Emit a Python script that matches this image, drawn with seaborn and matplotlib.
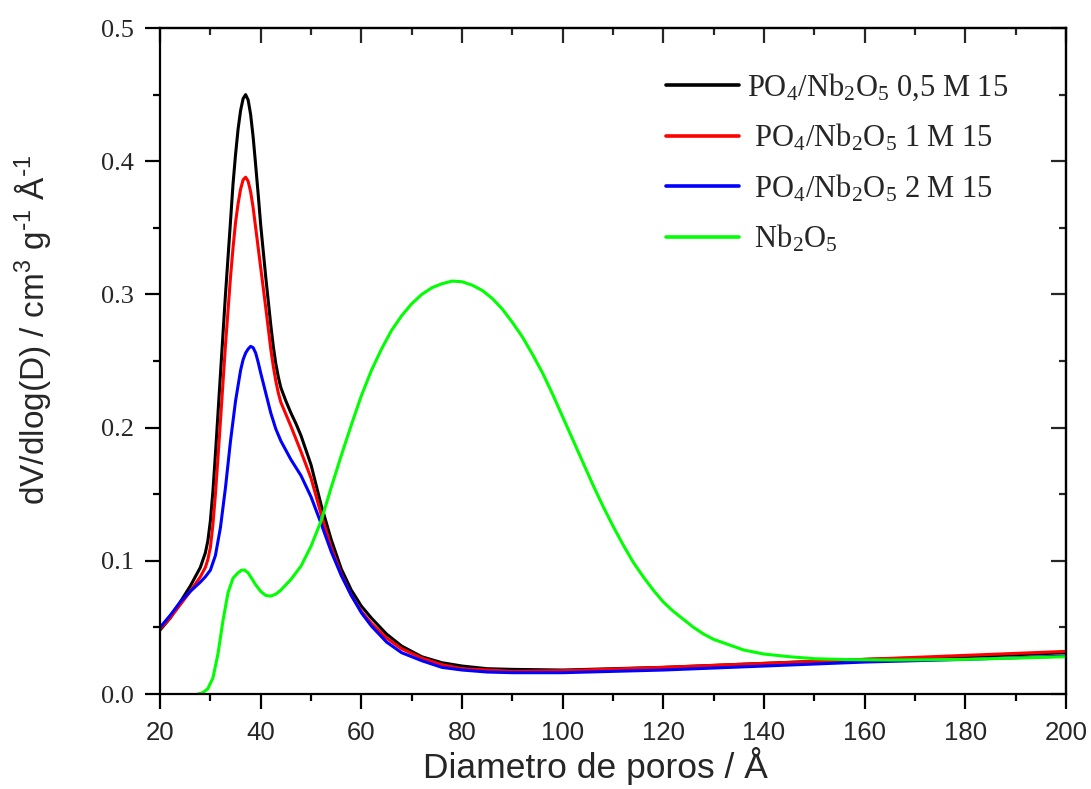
import numpy as np
import pandas as pd
import matplotlib
matplotlib.use("Agg")
import matplotlib.pyplot as plt
from matplotlib.ticker import MultipleLocator, FormatStrFormatter
import seaborn as sns

# ---- data ----
x_black = [20, 22, 24, 26, 28, 29, 29.5, 30, 30.5, 31, 31.5, 32, 33, 34, 34.5, 35, 35.5, 36, 36.5, 37,
           37.5, 38, 38.5, 39, 39.5, 40, 41, 42, 42.5, 43, 43.5, 44, 45, 46, 47, 48, 50, 52, 54, 56,
           58, 60, 62, 65, 68, 72, 76, 80, 85, 90, 100, 120, 140, 160, 180, 200]
y_black = [0.048, 0.057, 0.069, 0.081, 0.095, 0.106, 0.115, 0.130, 0.152, 0.180, 0.210, 0.240, 0.300,
           0.355, 0.383, 0.405, 0.424, 0.438, 0.447, 0.450, 0.446, 0.435, 0.418, 0.397, 0.375, 0.352,
           0.313, 0.277, 0.261, 0.248, 0.238, 0.230, 0.220, 0.211, 0.203, 0.194, 0.172, 0.142, 0.116,
           0.094, 0.078, 0.066, 0.057, 0.045, 0.036, 0.028, 0.0235, 0.021, 0.019, 0.0185, 0.018, 0.020,
           0.023, 0.026, 0.028, 0.031]

x_red = [20, 22, 24, 26, 28, 29, 29.5, 30, 30.5, 31, 31.5, 32, 33, 34, 34.5, 35, 35.5, 36, 36.5, 37,
         37.5, 38, 38.5, 39, 39.5, 40, 41, 42, 42.5, 43, 43.5, 44, 46, 48, 50, 52, 54, 56, 58, 60,
         62, 65, 68, 72, 76, 80, 85, 90, 100, 120, 140, 160, 180, 200]
y_red = [0.049, 0.057, 0.067, 0.077, 0.088, 0.095, 0.101, 0.110, 0.127, 0.150, 0.177, 0.205, 0.262,
         0.313, 0.335, 0.354, 0.368, 0.379, 0.386, 0.388, 0.385, 0.377, 0.365, 0.350, 0.335, 0.320,
         0.290, 0.259, 0.246, 0.235, 0.226, 0.219, 0.201, 0.182, 0.162, 0.135, 0.110, 0.090, 0.074,
         0.062, 0.053, 0.042, 0.034, 0.027, 0.022, 0.019, 0.018, 0.017, 0.0175, 0.020, 0.023, 0.026,
         0.029, 0.032]

x_blue = [20, 22, 24, 26, 28, 29, 30, 31, 32, 33, 34, 35, 36, 36.5, 37, 37.5, 38, 38.5, 39, 39.5, 40,
          41, 42, 43, 44, 45, 46, 48, 50, 52, 54, 56, 58, 60, 62, 65, 68, 72, 76, 80, 85, 90, 100,
          120, 140, 160, 180, 200]
y_blue = [0.050, 0.059, 0.069, 0.077, 0.084, 0.088, 0.093, 0.104, 0.125, 0.155, 0.190, 0.220, 0.243,
          0.251, 0.256, 0.259, 0.261, 0.260, 0.256, 0.249, 0.241, 0.226, 0.211, 0.199, 0.190, 0.183,
          0.176, 0.164, 0.148, 0.128, 0.107, 0.089, 0.074, 0.061, 0.051, 0.039, 0.031, 0.025, 0.020,
          0.018, 0.0165, 0.016, 0.016, 0.018, 0.021, 0.024, 0.026, 0.0285]

x_green = [27.5, 28.5, 29.5, 30.5, 31.5, 32.5, 33.5, 34.5, 35.5, 36.2, 36.8, 37.5, 38, 39, 40, 41, 42,
           43, 44, 46, 48, 50, 52, 54, 56, 58, 60, 62, 64, 66, 68, 70, 72, 74, 76, 78, 80, 82, 84,
           86, 88, 90, 92, 94, 96, 98, 100, 102, 104, 106, 108, 110, 112, 114, 116, 118, 120, 122,
           124, 126, 128, 130, 133, 136, 140, 145, 150, 157, 165, 180, 200]
y_green = [0.000, 0.001, 0.004, 0.012, 0.030, 0.055, 0.076, 0.087, 0.091, 0.093, 0.093, 0.091, 0.088,
           0.082, 0.077, 0.074, 0.0735, 0.075, 0.078, 0.086, 0.096, 0.111, 0.130, 0.155, 0.179, 0.202,
           0.224, 0.243, 0.259, 0.273, 0.284, 0.293, 0.300, 0.305, 0.308, 0.310, 0.3095, 0.307, 0.303,
           0.297, 0.289, 0.279, 0.268, 0.255, 0.241, 0.225, 0.208, 0.191, 0.174, 0.157, 0.141, 0.126,
           0.112, 0.099, 0.088, 0.078, 0.069, 0.062, 0.056, 0.050, 0.045, 0.041, 0.037, 0.033, 0.030,
           0.028, 0.0265, 0.0258, 0.0255, 0.026, 0.028]

labels = ["PO$_4$/Nb$_2$O$_5$ 0,5 M 15",
          " PO$_4$/Nb$_2$O$_5$ 1 M 15",
          " PO$_4$/Nb$_2$O$_5$ 2 M 15",
          " Nb$_2$O$_5$"]
colors = ["#000000", "#FF0000", "#0000FF", "#00FF00"]

frames = []
for lab, xs, ys in zip(labels, [x_black, x_red, x_blue, x_green],
                       [y_black, y_red, y_blue, y_green]):
    frames.append(pd.DataFrame({"x": xs, "y": ys, "series": lab}))
df = pd.concat(frames, ignore_index=True)

sns.set_style("ticks")
plt.rcParams["font.family"] = ["Liberation Sans", "DejaVu Sans"]
plt.rcParams["mathtext.default"] = "regular"

fig = plt.figure(figsize=(10.91, 7.89), dpi=100)
ax = fig.add_axes([0.1467, 0.1204, 0.8304, 0.8441])

sns.lineplot(data=df, x="x", y="y", hue="series", hue_order=labels,
             palette=dict(zip(labels, colors)), estimator=None, sort=True,
             linewidth=2.2, ax=ax, legend=True)

ax.set_xlim(20, 200)
ax.set_ylim(0, 0.5)
ax.xaxis.set_major_locator(MultipleLocator(20))
ax.xaxis.set_minor_locator(MultipleLocator(10))
ax.yaxis.set_major_locator(MultipleLocator(0.1))
ax.yaxis.set_minor_locator(MultipleLocator(0.05))
ax.yaxis.set_major_formatter(FormatStrFormatter("%.1f"))

for s in ax.spines.values():
    s.set_visible(True)
    s.set_linewidth(1.6)
    s.set_color("black")

ax.tick_params(axis="both", which="major", length=10.5, width=1.6, color="black")
ax.tick_params(axis="both", which="minor", length=5, width=1.6, color="black")
ax.tick_params(axis="x", which="both", direction="out", top=False)
ax.tick_params(axis="y", which="both", direction="out", right=False)
ax.tick_params(axis="x", which="major", labelsize=18.5, pad=9)
ax.tick_params(axis="y", which="major", labelsize=19, pad=8)
for t in ax.get_yticklabels():
    t.set_fontfamily(["Liberation Serif", "DejaVu Serif"])

# mirrored inward ticks on top and right
ax_top = ax.secondary_xaxis("top")
ax_top.xaxis.set_major_locator(MultipleLocator(20))
ax_top.xaxis.set_minor_locator(MultipleLocator(10))
ax_top.tick_params(which="both", direction="in", labeltop=False, width=1.6)
ax_top.tick_params(which="major", length=10.5)
ax_top.tick_params(which="minor", length=5)
ax_top.spines["top"].set_linewidth(1.6)
ax_right = ax.secondary_yaxis("right")
ax_right.yaxis.set_major_locator(MultipleLocator(0.1))
ax_right.yaxis.set_minor_locator(MultipleLocator(0.05))
ax_right.tick_params(which="both", direction="in", labelright=False, width=1.6)
ax_right.tick_params(which="major", length=10.5)
ax_right.tick_params(which="minor", length=5)
ax_right.spines["right"].set_linewidth(1.6)

ax.set_xlabel("Diametro de poros / Å", fontsize=25.5)
ax.xaxis.set_label_coords(0.481, -0.079)
ax.set_ylabel(r"dV/dlog(D) / cm$^3$ g$^{\text{-}1}$ Å$^{\text{-}1}$", fontsize=24)
ax.yaxis.set_label_coords(-0.118, 0.547)

handles, _ = ax.get_legend_handles_labels()
leg = ax.legend(handles=handles, labels=labels, loc="upper left",
                bbox_to_anchor=(0.5585, 0.935), frameon=False,
                prop={"family": ["Liberation Serif", "DejaVu Serif"], "size": 22},
                handlelength=2.4, handletextpad=0.25, labelspacing=0.63,
                borderaxespad=0, borderpad=0)
for line in leg.get_lines():
    line.set_linewidth(2.6)

fig.savefig("out.png", dpi=100)
